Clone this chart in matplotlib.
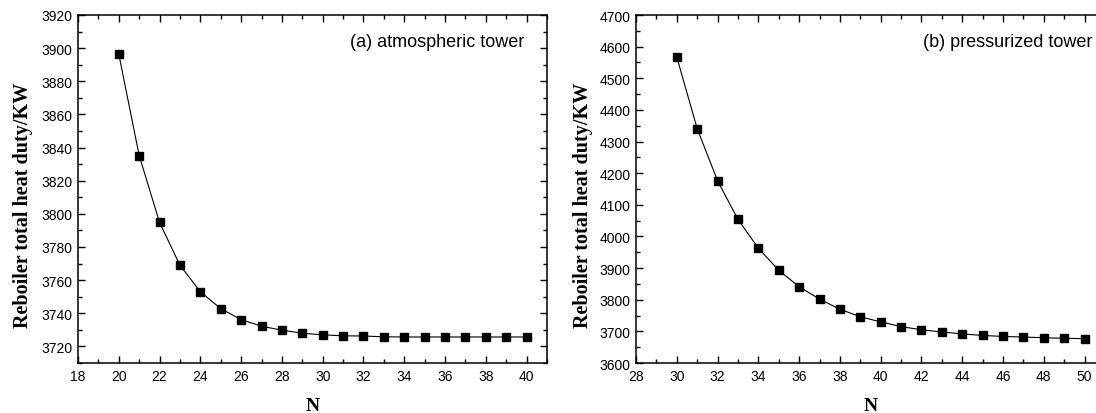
import matplotlib
matplotlib.use('Agg')
import matplotlib.pyplot as plt
from matplotlib.ticker import MultipleLocator

# reboiler duty vs number of stages, atmospheric column
n_atm = list(range(20, 41))
duty_atm = [3896.4, 3835.2, 3794.8, 3769.0, 3753.0, 3742.8, 3736.2, 3732.2, 3729.8,
            3728.0, 3727.0, 3726.4, 3726.3, 3725.8, 3725.7, 3725.7, 3725.7, 3725.7,
            3725.7, 3725.7, 3725.7]

# pressurized column
n_prs = list(range(30, 51))
duty_prs = [4567, 4341, 4176, 4054, 3963, 3893, 3841, 3802, 3770, 3746, 3730,
            3715, 3705, 3698, 3692, 3687, 3684, 3682, 3680, 3678, 3677]

tick_font = 'Liberation Sans'
label_font = 'Liberation Serif'

W, H = 1096, 414
fig = plt.figure(figsize=(W / 100, H / 100), dpi=100)

def px_axes(left, right, top, bottom):
    return fig.add_axes([left / W, 1 - bottom / H, (right - left) / W, (bottom - top) / H])

ax1 = px_axes(78, 547, 16, 364)
ax2 = px_axes(636, 1105, 16, 364)

panels = [
    (ax1, n_atm, duty_atm, (18, 41), (3710, 3920), 20, 10, '(a) atmospheric tower', 0.952, -0.096),
    (ax2, n_prs, duty_prs, (28, 51), (3600, 4700), 100, 50, '(b) pressurized tower', 0.974, -0.091),
]

for ax, x, y, xlim, ylim, ymaj, ymin, title, tx, lx in panels:
    ax.plot(x, y, color='black', lw=0.8, marker='s', ms=5.4,
            mfc='black', mec='black', clip_on=False)
    ax.set_xlim(*xlim)
    ax.set_ylim(*ylim)
    ax.xaxis.set_major_locator(MultipleLocator(2))
    ax.xaxis.set_minor_locator(MultipleLocator(1))
    ax.yaxis.set_major_locator(MultipleLocator(ymaj))
    ax.yaxis.set_minor_locator(MultipleLocator(ymin))
    ax.tick_params(which='both', direction='in', top=True, right=True,
                   width=1.0, labelsize=10, pad=4)
    ax.tick_params(which='major', length=5)
    ax.tick_params(which='minor', length=3)
    for lab in ax.get_xticklabels() + ax.get_yticklabels():
        lab.set_fontfamily(tick_font)
    for s in ax.spines.values():
        s.set_linewidth(1.1)
    ax.set_xlabel('N', fontfamily=label_font, fontweight='bold', fontsize=14)
    ax.xaxis.set_label_coords(0.5, -0.098)
    ax.set_ylabel('Reboiler total heat duty/KW', fontfamily=label_font,
                  fontweight='bold', fontsize=14.5)
    ax.yaxis.set_label_coords(lx, 0.457)
    ax.text(tx, 0.925, title, transform=ax.transAxes, ha='right', va='center',
            fontfamily=tick_font, fontsize=13)

fig.savefig('out.png', dpi=100)
